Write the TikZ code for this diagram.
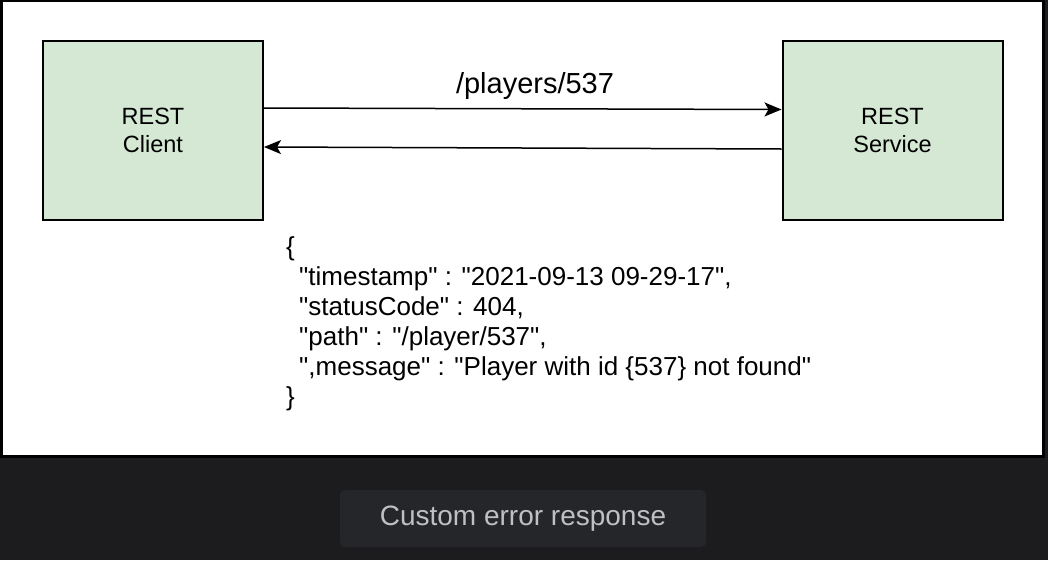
\documentclass[tikz,border=0pt]{standalone}
\usepackage{fontspec}
\setmainfont{Liberation Sans}
\newfontfamily\jsonfont{Liberation Sans}
\usetikzlibrary{arrows.meta}
\definecolor{bgdark}{HTML}{1C1C1E}
\definecolor{capbox}{HTML}{25262A}
\definecolor{captext}{HTML}{BFC0C4}
\definecolor{boxfill}{HTML}{D5E8D4}
\tikzset{
  block/.style={draw=black, line width=2pt, fill=boxfill, minimum width=220pt, minimum height=179pt, inner sep=0pt, align=center, font=\fontsize{23.5}{28.5}\selectfont},
  conn/.style={line width=1.5pt, -{Stealth[length=17pt,width=14pt,inset=4pt]}},
}
\begin{document}
\begin{tikzpicture}[x=1pt,y=-1pt]
\useasboundingbox (0,0) rectangle (1048,560);
\fill[bgdark] (0,0) rectangle (1048,560);
\fill[black] (0,0) rectangle (1045,458);
\fill[white] (3,2) rectangle (1042,455);
\node[block] (client) at (153,130.5) {REST\\Client};
\node[block] (service) at (892.5,130.5) {REST\\Service};
\coordinate (c1) at ([yshift=22.5pt]client.east);
\coordinate (s1) at ([yshift=21pt]service.west);
\coordinate (s2) at ([yshift=-18.5pt]service.west);
\coordinate (c2) at ([yshift=-16.5pt]client.east);
\draw[conn] (c1) -- (s1);
\draw[conn] (s2) -- (c2);
\node[anchor=base, inner sep=0pt, font=\fontsize{29}{34}\selectfont] (lbl) at (535,93) {/players/537};
\node[anchor=base west, inner sep=0pt, align=left, font=\jsonfont\fontsize{26}{30}\selectfont] (json) at (286,405) {\{\\
\hspace*{13pt}"timestamp" : "2021-09-13 09-29-17",\\
\hspace*{13pt}"statusCode" : 404,\\
\hspace*{13pt}"path" : "/player/537",\\
\hspace*{13pt}",message" : "Player with id \{537\} not found"\\
\}};
\node[fill=capbox, rounded corners=5pt, minimum width=366pt, minimum height=57pt, text=captext, font=\fontsize{28}{33}\selectfont] (cap) at (523,518.5) {\raisebox{-2pt}{Custom error response}};
\end{tikzpicture}
\end{document}
